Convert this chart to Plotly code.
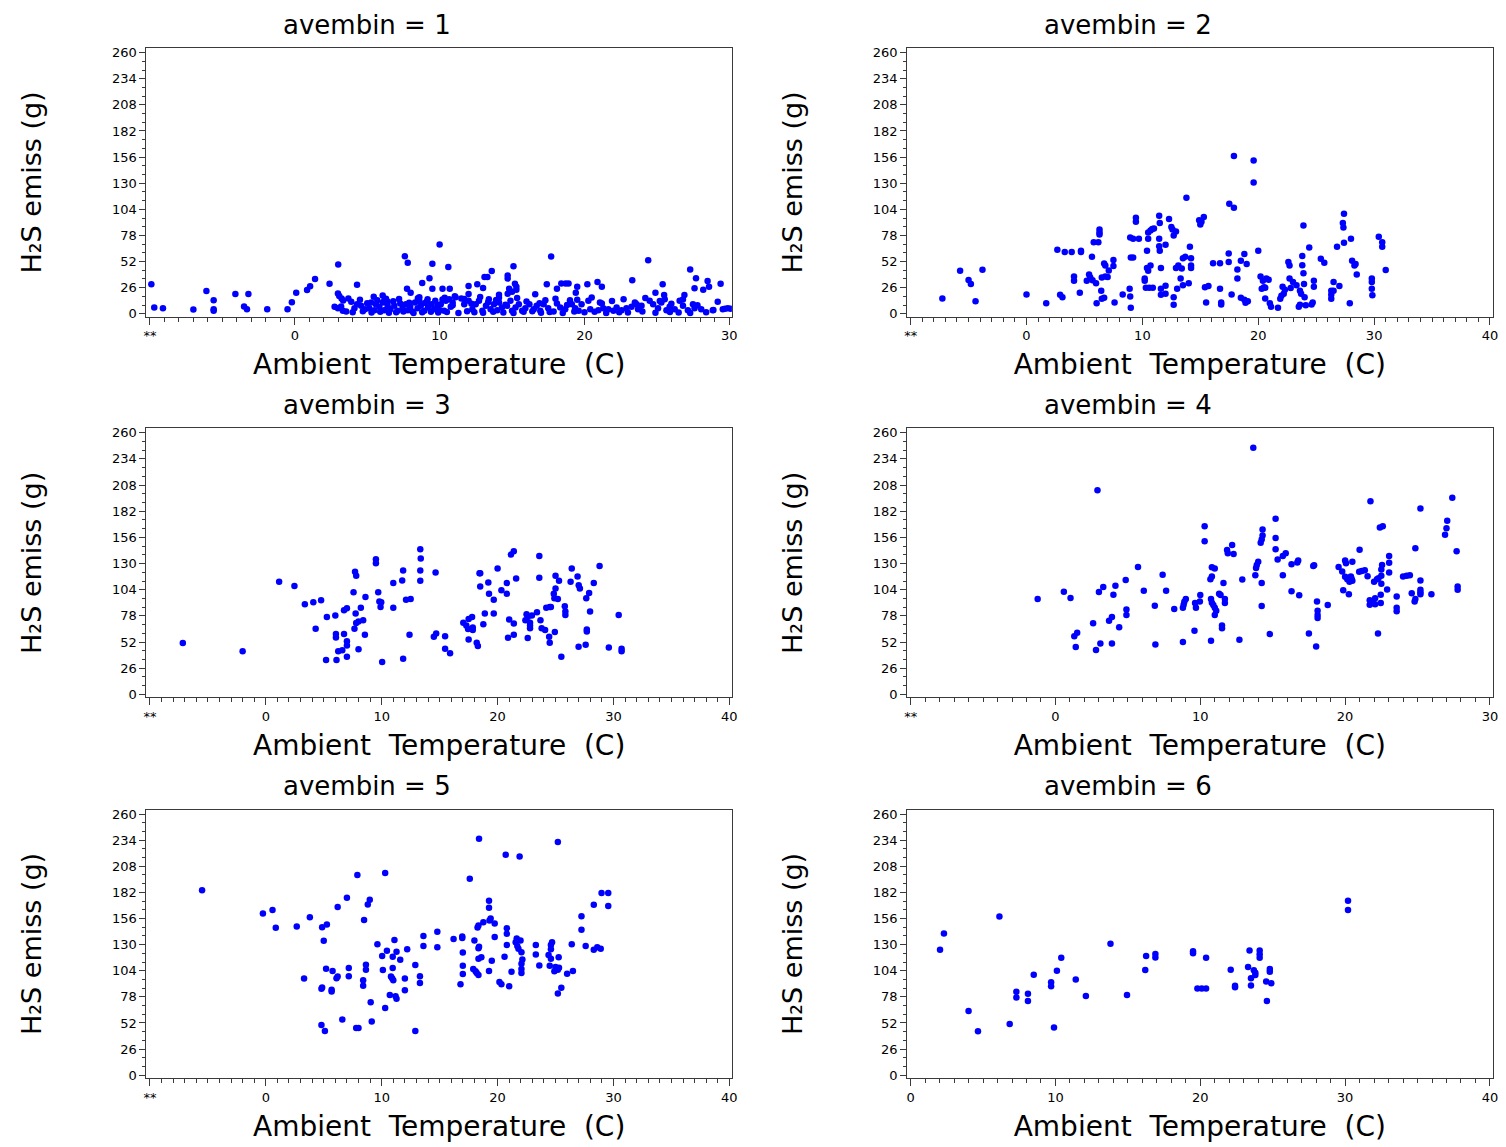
import plotly.graph_objects as go

# ---------------- data ----------------
y_ticks = [0, 26, 52, 78, 104, 130, 156, 182, 208, 234, 260]
y_ticklabels = [str(v) for v in y_ticks]

panel_titles = ["avembin = 1", "avembin = 2", "avembin = 3",
                "avembin = 4", "avembin = 5", "avembin = 6"]
x_title = "Ambient\u00a0\u00a0Temperature\u00a0\u00a0(C)"
y_title = "H\u2082S emiss (g)"

x_tickvals_1 = [-10, 0, 10, 20, 30]
x_ticktext_1 = ["**", "0", "10", "20", "30"]
x_tickvals_2 = [-10, 0, 10, 20, 30, 40]
x_ticktext_2 = ["**", "0", "10", "20", "30", "40"]
x_tickvals_6 = [0, 10, 20, 30, 40]
x_ticktext_6 = ["0", "10", "20", "30", "40"]

# avembin = 1
temp1 = [-9.9, -9.7, -9.1, -7.0, -6.1, -5.6, -5.6, -5.6, -4.1, -3.5, -3.3, -3.2, -1.9, -0.5, -0.2,
         0.1, 0.85, 1.06, 1.4, 2.4, 3.0, 2.98, 3.07, 3.23, 3.34, 3.7, 4.3, 6.07, 6.18, 6.41,
         7.6, 7.8, 7.75, 8.0, 8.6, 8.8, 9.17, 9.3, 9.5, 9.5, 10.0, 10.6, 10.2, 10.7, 12.0,
         12.6, 13.1, 13.3, 13.6, 13.0, 14.1, 14.1, 14.7, 14.7, 15.1, 14.7, 14.8, 15.0, 15.2, 15.3,
         15.3, 16.6, 17.4, 17.7, 18.1, 18.4, 18.7, 18.9, 19.5, 19.4, 20.2, 20.9, 21.2, 23.3, 24.4,
         24.9, 25.4, 25.5, 26.9, 27.3, 27.7, 27.6, 28.5, 28.6, 28.2, 29.4, 28.9, 29.7, 30.1,
         2.75, 2.98, 3.2, 3.32, 3.55, 4.12, 4.3, 4.58, 4.85, 5.27, 5.15, 5.5, 5.6, 5.84, 6.07,
         6.18, 6.41, 6.6, 6.87, 7.1, 7.28, 7.44, 7.67, 7.8, 7.97, 8.13, 8.3, 8.48, 8.7, 8.94,
         9.12, 9.2, 9.44, 9.62, 9.85, 10.03,
         10.2, 10.08, 10.43, 10.66, 10.9, 10.77, 10.31, 11.1, 11.7, 11.7, 12.0, 12.0, 12.26, 12.49, 12.72,
         12.95, 13.2, 13.4, 13.52, 13.75, 13.98, 14.1, 14.3, 14.66, 14.89, 15.0, 15.24, 15.47, 15.7, 15.92,
         16.2, 16.5, 16.7, 16.95, 17.18, 17.5, 17.87, 18.1, 18.33, 18.67, 19.0, 19.13, 19.36, 19.6, 19.8,
         20.27, 20.4, 20.96, 21.07, 21.3, 21.65, 22.0, 22.22, 22.56, 22.9, 23.25, 23.48, 23.7, 23.94, 24.5,
         24.74, 25.08, 25.31, 25.54, 25.66, 25.88, 26.23, 26.57, 26.8, 27.14, 27.49, 27.6, 28.06, 28.86, 29.55,
         29.9,
         4.0, 4.7, 5.3, 5.9, 6.5, 7.0, 7.5, 8.2, 8.8, 9.4, 9.9, 10.5, 11.3, 11.9, 12.4,
         13.0, 13.7, 14.4, 15.1, 15.8, 16.4, 17.0, 17.6, 18.5, 19.3, 20.0, 20.7, 21.5, 22.4, 23.0,
         24.0, 24.9, 25.9, 26.5, 27.3, 28.4,
         3.9, 4.5, 5.0, 5.7, 6.3, 6.8, 7.2, 7.9, 8.5, 9.0, 9.7, 10.35, 10.9, 11.5, 12.2,
         12.8, 13.35, 13.9, 14.55, 15.35, 16.0, 16.9, 17.3, 18.0, 18.8, 19.5, 20.5, 21.2, 21.9, 22.7,
         23.6, 24.2, 25.2, 26.0, 26.8, 27.8, 29.2, 5.45, 8.6, 11.05]
emis1 = [29.4, 6.2, 5.6, 4.3, 22.7, 13.5, 4.6, 3.0, 19.8, 7.2, 4.6, 19.8, 4.6, 4.6, 11.6,
         21.0, 23.7, 27.4, 34.6, 30.0, 49.1, 20.1, 17.8, 15.2, 13.2, 15.2, 29.0, 18.1, 13.2, 11.9,
         57.3, 50.7, 25.0, 21.0, 12.9, 30.6, 14.5, 35.3, 49.7, 25.0, 68.9, 46.5, 25.0, 25.0, 27.7,
         29.4, 36.6, 36.6, 42.5, 25.7, 16.0, 19.0, 35.0, 38.0, 47.2, 20.0, 25.0, 22.0, 30.0, 27.0,
         24.0, 19.5, 29.4, 57.0, 25.0, 30.2, 30.2, 30.2, 27.0, 21.0, 29.4, 31.6, 27.0, 33.3, 53.4,
         21.0, 29.4, 18.8, 18.8, 44.2, 35.3, 25.4, 32.6, 27.0, 24.0, 30.0, 3.7, 5.0, 5.0,
         6.9, 5.6, 7.2, 3.0, 2.3, 5.6, 9.6, 7.9, 4.6, 11.2, 5.6, 3.6, 9.6, 6.9, 11.2,
         3.6, 7.9, 4.6, 7.9, 3.0, 10.3, 5.6, 9.6, 3.6, 6.9, 2.3, 11.2, 5.6, 7.9, 3.0,
         12.2, 6.3, 9.6, 4.6, 7.9, 3.6,
         14.2, 9.6, 12.9, 14.5, 11.2, 6.9, 3.0, 16.5, 14.8, 9.6, 19.8, 12.9, 4.6, 9.6, 12.9,
         3.0, 7.9, 14.5, 4.6, 9.6, 3.6, 11.2, 6.3, 7.9, 12.9, 3.0, 6.3, 9.6, 3.0, 5.6,
         9.6, 4.6, 7.9, 3.0, 9.6, 5.6, 2.3, 10.3, 6.3, 4.6, 13.5, 9.6, 5.6, 3.0, 9.6,
         12.9, 4.6, 3.6, 11.2, 5.6, 4.6, 3.0, 6.3, 3.6, 5.6, 6.9, 11.2, 4.6, 7.9, 12.9,
         9.6, 5.6, 11.2, 14.5, 3.6, 6.9, 4.6, 12.9, 7.9, 3.6, 9.6, 5.6, 4.6, 3.6, 4.6,
         5.6,
         1.5, 2.5, 1.2, 2.0, 1.0, 1.6, 2.2, 0.8, 1.4, 2.0, 1.2, 1.8, 0.9, 2.4, 1.5,
         1.0, 2.1, 1.3, 0.7, 1.9, 2.6, 1.1, 1.7, 0.9, 2.2, 1.4, 2.0, 0.8, 1.6, 1.2,
         2.3, 1.0, 1.8, 1.3, 0.9, 1.5,
         12.0, 14.0, 10.5, 13.5, 15.0, 12.5, 14.8, 11.0, 15.5, 10.8, 13.0, 16.0, 8.5, 15.2, 10.0,
         16.8, 11.5, 13.8, 9.0, 15.8, 12.2, 10.5, 13.4, 15.0, 8.8, 14.0, 16.2, 10.2, 12.6, 14.4,
         9.4, 15.6, 12.8, 10.0, 14.2, 8.4, 12.0, 17.0, 16.4, 17.5]

# avembin = 2
temp2 = [-7.26, -5.73, -5.0, -4.8, -4.4, -3.8, 0.0, 1.7, 2.66, 2.9, 3.1, 3.3, 3.9, 4.1, 4.1,
         4.6, 4.7, 4.7, 5.2, 5.4, 5.5, 5.7, 5.65, 5.8, 6.2, 6.0, 6.05, 6.3, 6.3, 6.3,
         6.45, 6.5, 6.7, 6.5, 6.8, 7.0, 6.7, 6.8, 7.1, 7.5, 7.5, 7.6, 8.3, 8.9, 8.95,
         8.95, 9.2, 9.0, 9.2, 9.0, 9.44, 9.44, 9.7, 10.2, 10.2, 10.4, 10.4, 10.5, 10.5, 10.7,
         10.85, 11.0, 10.5, 10.3, 10.6, 10.9, 10.7, 11.45, 11.5, 11.45, 11.45, 11.5, 11.6, 11.6, 11.6,
         12.0, 12.0, 12.0, 12.3, 12.5, 12.6, 12.9, 12.7, 12.7, 12.7, 12.9, 13.1, 13.0, 13.3, 13.4,
         13.5, 13.7, 13.5, 13.8, 14.0, 14.1, 14.2, 14.2, 14.2, 14.9, 15.1, 15.3, 15.0, 15.4, 15.7,
         15.5, 16.1, 16.7, 16.7, 16.8, 16.8, 17.45, 17.45, 17.5, 17.7, 17.9, 17.9, 18.2, 18.2, 18.5,
         18.5, 18.8, 18.9, 19.1, 18.8, 19.0, 19.6, 19.6, 20.0, 20.2, 20.4, 20.7, 20.9, 20.3, 20.5,
         20.6, 20.6, 21.0, 21.1, 21.7, 21.9, 22.0, 22.2, 22.1, 22.3, 22.6, 22.7, 22.7, 22.8, 23.0,
         23.3, 23.5, 23.6, 23.7, 23.6, 23.8, 23.8, 23.9, 23.9, 23.95, 24.0, 24.1, 24.4, 24.6, 24.7,
         24.8, 24.8, 25.4, 25.7, 26.3, 26.3, 26.3, 26.5, 26.5, 26.8, 27.0, 27.3, 27.35, 27.4, 27.4,
         27.9, 28.0, 28.1, 28.3, 28.4, 28.5, 29.8, 29.8, 29.8, 29.85, 30.4, 30.7, 30.7, 31.0]
emis2 = [15.2, 42.9, 33.7, 29.7, 12.5, 43.9, 19.1, 10.6, 63.7, 19.0, 16.5, 61.4, 61.4, 37.0, 33.0,
         21.0, 62.7, 61.5, 33.0, 39.0, 36.0, 33.5, 56.8, 71.3, 71.3, 30.4, 10.6, 84.0, 81.0, 79.0,
         23.0, 15.0, 16.0, 36.0, 37.0, 36.5, 50.0, 48.0, 43.0, 47.5, 53.5, 11.2, 19.1, 25.0, 17.2,
         76.0, 74.6, 56.0, 56.0, 5.9, 95.7, 91.7, 74.6, 35.0, 33.0, 62.7, 45.5, 42.9, 81.0, 83.0,
         84.5, 85.0, 74.6, 26.0, 26.0, 26.0, 48.0, 97.7, 90.4, 74.6, 67.3, 62.7, 45.5, 25.0, 19.0,
         68.6, 28.0, 20.0, 94.4, 86.5, 84.0, 82.0, 77.9, 16.5, 9.0, 45.5, 48.0, 25.0, 35.0, 45.0,
         55.4, 56.8, 28.4, 115.5, 30.4, 66.7, 55.4, 48.0, 45.5, 93.0, 91.7, 96.4, 89.0, 26.4, 27.7,
         11.2, 50.2, 50.2, 25.0, 11.2, 9.2, 60.0, 51.5, 109.6, 19.1, 157.1, 105.6, 44.2, 35.0, 52.8,
         16.0, 14.0, 11.0, 12.5, 59.4, 49.5, 152.5, 130.7, 62.7, 37.0, 33.0, 35.0, 34.0, 25.0, 26.4,
         26.0, 15.2, 10.6, 7.0, 5.9, 15.0, 18.0, 20.0, 27.0, 24.0, 51.5, 48.0, 35.0, 25.7, 31.7,
         28.4, 7.0, 9.0, 20.0, 23.0, 57.4, 48.2, 87.8, 40.3, 29.7, 16.5, 8.6, 66.0, 9.2, 11.2,
         27.0, 33.0, 54.8, 50.8, 23.0, 19.0, 15.0, 23.0, 31.7, 66.7, 27.7, 90.4, 85.8, 99.7, 70.6,
         10.6, 74.6, 52.8, 48.0, 49.5, 39.0, 35.0, 31.7, 25.0, 18.5, 76.6, 71.3, 66.7, 43.6]

# avembin = 3
temp3 = [-7.16, -2.0, 1.15, 2.47, 3.37, 4.1, 4.77, 4.3, 5.27, 5.2, 6.0, 6.05, 6.05, 6.1, 6.25,
         6.6, 6.75, 6.75, 7.0, 7.0, 7.0, 7.0, 7.57, 7.65, 7.7, 7.8, 7.75, 7.8, 8.0, 8.0,
         8.2, 8.4, 8.55, 8.6, 9.5, 9.5, 9.7, 9.8, 9.96, 9.9, 10.04, 11.0, 11.0, 11.77, 11.85,
         11.85, 12.1, 12.5, 12.4, 13.33, 13.37, 13.33, 13.33, 14.65, 14.5, 14.7, 15.47, 15.47, 15.9, 17.04,
         17.3, 17.45, 17.5, 17.5, 17.8, 17.86, 17.86, 18.2, 18.3, 18.44, 18.5, 18.5, 18.77, 18.9, 19.2,
         19.26, 19.67, 19.67, 20.0, 20.33, 20.8, 20.8, 20.9, 21.0, 21.15, 21.4, 21.4, 21.4, 21.6, 22.5,
         22.6, 22.6, 22.4, 22.8, 22.8, 22.8, 22.96, 23.4, 23.6, 23.6, 23.7, 23.8, 24.1, 24.2, 24.5,
         24.6, 24.45, 24.5, 24.85, 24.9, 24.94, 25.0, 25.3, 25.0, 25.2, 25.5, 25.8, 25.85, 25.85, 26.3,
         26.4, 26.9, 27.0, 27.1, 26.99, 27.6, 27.65, 27.7, 27.7, 27.9, 27.98, 28.3, 28.8, 29.6, 30.45,
         30.7, 30.7]
emis3 = [51.0, 42.8, 111.9, 107.6, 89.5, 91.5, 93.5, 65.2, 77.0, 34.2, 78.3, 56.6, 59.9, 34.2, 42.8,
         43.8, 59.9, 83.6, 85.6, 48.7, 52.7, 37.5, 101.4, 65.2, 121.8, 117.8, 80.3, 71.0, 72.4, 44.8,
         86.2, 73.7, 59.2, 96.8, 134.3, 130.3, 101.4, 92.2, 91.5, 86.9, 32.3, 110.6, 86.2, 113.2, 123.1,
         35.5, 94.1, 94.8, 59.2, 144.2, 135.0, 123.1, 112.9, 121.1, 57.3, 60.6, 57.9, 45.4, 40.8, 71.1,
         68.5, 65.0, 54.6, 75.0, 77.0, 66.5, 63.9, 51.3, 48.0, 120.5, 120.5, 107.3, 69.8, 80.3, 111.3,
         100.1, 94.1, 80.3, 125.1, 103.4, 110.6, 100.0, 56.3, 74.4, 138.9, 142.2, 70.4, 59.2, 115.2, 79.7,
         77.0, 56.0, 73.7, 71.1, 68.5, 65.8, 78.3, 81.6, 137.6, 115.9, 73.7, 65.8, 63.9, 86.2, 86.9,
         86.9, 57.3, 51.3, 100.0, 95.5, 61.9, 117.8, 112.9, 105.3, 94.8, 37.5, 87.6, 82.3, 79.0, 111.9,
         125.1, 117.2, 108.5, 105.3, 47.4, 49.4, 95.5, 64.5, 62.5, 100.7, 82.3, 110.6, 127.7, 46.7, 79.0,
         45.4, 42.8]

# avembin = 4
temp4 = [-1.23, 0.58, 1.04, 1.3, 1.5, 1.4, 2.6, 2.8, 2.9, 3.0, 3.1, 3.3, 3.7, 3.9, 3.9,
         4.0, 4.14, 4.4, 4.85, 4.9, 4.9, 5.7, 6.1, 6.86, 6.9, 7.4, 7.64, 8.2, 8.8, 8.85,
         9.0, 8.9, 8.8, 9.6, 9.64, 9.7, 9.97, 10.0, 10.3, 10.3, 10.7, 10.8, 10.74, 10.9, 10.8,
         10.74, 10.8, 11.0, 11.0, 11.1, 11.0, 11.3, 11.4, 11.5, 11.5, 11.6, 11.7, 11.7, 11.85, 11.9,
         12.2, 12.3, 12.7, 12.9, 13.66, 13.8, 13.85, 13.9, 14.0, 14.17, 14.24, 14.3, 14.3, 14.24, 14.24,
         14.8, 15.2, 15.2, 15.2, 15.34, 15.7, 15.7, 15.9, 16.3, 16.3, 16.7, 16.76, 16.83, 17.5, 17.8,
         17.86, 18.0, 18.06, 18.1, 18.1, 18.1, 18.8, 19.55, 19.8, 19.87, 20.0, 20.06, 20.0, 20.15, 20.3,
         20.25, 20.45, 20.5, 20.4, 20.26, 20.5, 20.97, 21.15, 21.36, 21.0, 21.55, 21.7, 21.7, 21.9, 21.75,
         22.0, 22.2, 22.3, 22.07, 22.07, 22.27, 22.4, 22.6, 22.46, 22.46, 22.5, 22.5, 22.5, 22.55, 22.9,
         23.04, 23.04, 23.04, 23.56, 23.56, 23.56, 24.0, 24.25, 24.47, 24.6, 24.8, 24.85, 24.85, 25.2, 25.2,
         25.2, 25.2, 25.2, 25.96, 26.9, 27.0, 27.05, 27.4, 27.7, 27.77, 27.77]
emis4 = [94.8, 102.0, 95.8, 57.9, 61.2, 47.1, 70.8, 44.1, 202.8, 101.7, 50.7, 106.6, 73.1, 77.0, 50.7,
         99.1, 108.0, 66.8, 113.6, 84.3, 79.0, 126.7, 103.0, 88.2, 49.7, 118.8, 103.0, 84.9, 86.0, 89.0,
         94.8, 92.0, 52.0, 63.2, 90.8, 86.2, 92.2, 98.8, 167.2, 152.1, 114.5, 117.2, 94.8, 88.9, 91.0,
         53.3, 126.4, 125.0, 86.0, 83.0, 79.0, 100.0, 98.8, 68.5, 65.8, 110.6, 94.8, 90.8, 143.5, 140.2,
         148.5, 139.6, 54.3, 114.2, 245.2, 118.5, 125.7, 128.5, 131.7, 150.7, 154.0, 158.0, 163.9, 110.6, 87.9,
         59.9, 174.5, 155.4, 144.2, 134.0, 118.5, 137.6, 140.2, 102.4, 129.4, 131.0, 133.0, 98.4, 60.6, 127.7,
         128.4, 47.7, 92.2, 83.0, 79.0, 76.0, 88.9, 126.7, 122.1, 103.4, 133.0, 130.3, 117.0, 114.5, 112.0,
         116.0, 115.0, 113.0, 117.2, 99.4, 131.7, 121.8, 122.6, 123.4, 143.8, 117.5, 93.5, 89.0, 91.5, 191.9,
         112.0, 114.5, 115.5, 95.5, 89.5, 60.6, 165.9, 167.2, 99.1, 90.8, 110.0, 118.0, 124.0, 128.7, 104.3,
         137.6, 130.7, 121.1, 97.4, 86.2, 82.6, 117.2, 118.0, 118.5, 100.4, 92.2, 94.8, 145.2, 113.2, 104.0,
         101.5, 99.4, 184.7, 99.4, 158.7, 165.0, 172.5, 195.5, 142.2, 107.3, 104.0]

# avembin = 5
temp5 = [-5.5, -0.25, 0.58, 0.86, 2.67, 3.8, 3.3, 4.86, 5.27, 5.0, 4.8, 4.86, 4.8, 5.1, 5.2,
         5.68, 5.68, 5.76, 6.1, 6.2, 6.2, 6.6, 7.0, 7.16, 7.16, 7.9, 7.8, 8.0, 8.4, 8.4,
         8.48, 8.64, 8.64, 8.8, 8.97, 9.05, 9.14, 9.63, 10.04, 10.1, 10.3, 10.3, 10.45, 10.7, 10.8,
         10.9, 11.0, 10.95, 10.95, 11.1, 11.28, 11.28, 11.2, 11.6, 12.0, 12.0, 12.2, 12.9, 12.9, 13.3,
         13.3, 13.6, 13.6, 14.8, 14.8, 16.2, 16.95, 16.95, 17.0, 17.0, 17.0, 16.8, 17.6, 18.0, 17.9,
         18.1, 18.2, 18.35, 18.27, 18.35, 18.35, 18.4, 18.35, 18.6, 18.4, 18.77, 19.26, 19.26, 19.26, 19.3,
         19.4, 19.5, 19.75, 19.75, 20.16, 20.33, 20.6, 20.7, 20.8, 20.8, 20.8, 21.0, 21.2, 21.56, 21.65,
         21.7, 21.8, 21.9, 21.98, 22.06, 22.06, 22.06, 22.06, 22.14, 23.3, 23.3, 23.6, 24.4, 24.6, 24.7,
         24.6, 24.6, 24.5, 24.9, 25.0, 25.2, 25.3, 25.27, 25.2, 25.2, 25.5, 26.0, 26.5, 26.4, 27.24,
         27.24, 27.6, 28.3, 28.3, 28.6, 28.9, 28.97, 29.55, 29.55]
emis5 = [184.2, 160.9, 164.5, 146.8, 148.1, 157.3, 96.2, 147.4, 150.0, 133.9, 86.0, 87.3, 49.9, 44.0, 106.0,
         83.4, 85.0, 103.7, 96.5, 98.2, 167.4, 55.5, 176.6, 106.7, 98.5, 199.3, 46.9, 46.9, 94.5, 89.0,
         154.6, 105.0, 110.0, 170.0, 174.7, 72.6, 53.5, 130.3, 118.8, 104.7, 201.2, 67.0, 123.8, 79.8, 98.2,
         96.5, 94.5, 117.9, 106.7, 134.6, 122.8, 76.2, 78.5, 114.9, 96.2, 84.7, 125.4, 44.0, 109.7, 98.5,
         91.9, 138.5, 128.7, 142.8, 127.4, 135.6, 136.6, 138.2, 122.1, 109.0, 100.8, 90.6, 195.7, 134.0, 105.7,
         103.5, 101.8, 99.8, 147.0, 149.0, 126.4, 128.0, 115.9, 117.5, 235.4, 152.3, 103.7, 166.8, 173.7, 154.0,
         156.0, 113.9, 151.0, 137.6, 92.9, 90.6, 117.9, 219.6, 140.8, 146.4, 129.7, 88.6, 103.1, 132.3, 136.2,
         128.7, 126.0, 217.7, 134.0, 122.5, 111.0, 105.7, 101.8, 115.2, 129.7, 120.2, 109.3, 119.8, 129.7, 132.3,
         125.4, 116.0, 109.0, 103.4, 107.7, 105.0, 107.0, 117.5, 232.1, 81.4, 87.0, 101.1, 103.7, 130.3, 144.8,
         158.2, 128.7, 169.7, 124.8, 127.4, 126.0, 181.5, 181.5, 168.4]

# avembin = 6
temp6 = [2.03, 2.3, 4.0, 4.65, 6.13, 6.84, 7.3, 7.3, 8.1, 8.1, 8.5, 9.7, 9.7, 9.9, 10.1,
         10.4, 11.4, 12.1, 13.8, 14.94, 16.2, 16.26, 16.9, 16.9, 19.5, 19.5, 19.8, 20.1, 20.4, 20.4,
         22.1, 22.4, 22.4, 23.3, 23.4, 23.5, 23.5, 23.7, 23.8, 23.8, 24.1, 24.1, 24.1, 24.55, 24.6,
         24.8, 24.8, 24.9, 30.2, 30.2]
emis6 = [124.8, 141.2, 64.0, 43.7, 157.9, 50.9, 83.0, 77.5, 81.1, 73.9, 100.1, 92.6, 88.6, 47.6, 104.1,
         116.9, 95.2, 78.8, 131.0, 79.8, 104.7, 118.8, 120.8, 117.2, 123.4, 121.5, 86.3, 86.3, 86.3, 116.9,
         105.0, 89.0, 87.7, 107.7, 124.1, 96.5, 89.3, 104.4, 102.0, 99.8, 124.1, 120.5, 116.9, 93.2, 73.9,
         105.7, 103.1, 91.6, 173.7, 164.5]

temps = [temp1, temp2, temp3, temp4, temp5, temp6]
emiss = [emis1, emis2, emis3, emis4, emis5, emis6]

# ---------------- layout geometry ----------------
W, H = 1506, 1147
col_dom = [[144.3 / W, 733.3 / W], [909.6 / W, 1498.5 / W]]
row_px = [(45.5, 316.0), (428.3, 699.3), (812.3, 1082.8)]
row_dom = [[1 - b / H, 1 - t / H] for (t, b) in row_px]

x_setups = [
    (x_tickvals_1, x_ticktext_1, [-10.24, 30.18]),
    (x_tickvals_2, x_ticktext_2, [-10.30, 40.22]),
    (x_tickvals_2, x_ticktext_2, [-10.30, 40.22]),
    (x_tickvals_1, x_ticktext_1, [-10.24, 30.18]),
    (x_tickvals_2, x_ticktext_2, [-10.30, 40.22]),
    (x_tickvals_6, x_ticktext_6, [-0.24, 40.18]),
]

LINE = "#3a3a3a"
TICKFONT = dict(family="DejaVu Sans", size=13, color="black")
TITLEFONT = "DejaVu Sans"

fig = go.Figure()
layout = dict(
    width=W, height=H, margin=dict(l=0, r=0, t=0, b=0),
    paper_bgcolor="white", plot_bgcolor="white", showlegend=False,
    annotations=[],
)

for i in range(6):
    r, c = divmod(i, 2)
    n = "" if i == 0 else str(i + 1)
    fig.add_trace(go.Scatter(
        x=temps[i], y=emiss[i], mode="markers",
        marker=dict(color="#0000ff", size=6.5, line=dict(width=0)),
        xaxis="x" + n, yaxis="y" + n, hoverinfo="x+y",
    ))
    tv, tt, xr = x_setups[i]
    layout["xaxis" + n] = dict(
        domain=col_dom[c], anchor="y" + n, range=xr,
        tickmode="array", tickvals=tv, ticktext=tt,
        ticks="outside", ticklen=7, tickwidth=1, tickcolor=LINE,
        showline=True, linecolor=LINE, linewidth=1, mirror=True,
        showgrid=False, zeroline=False, tickfont=TICKFONT,
        minor=dict(tickmode="linear", tick0=0, dtick=1, ticks="outside",
                   ticklen=4, tickcolor=LINE, showgrid=False),
        title=dict(text=x_title, standoff=12,
                   font=dict(family=TITLEFONT, size=28, color="black")),
    )
    layout["yaxis" + n] = dict(
        domain=row_dom[r], anchor="x" + n, range=[-3.0, 264.4],
        tickmode="array", tickvals=y_ticks, ticktext=y_ticklabels,
        ticks="outside", ticklen=6, tickwidth=1, tickcolor=LINE,
        showline=True, linecolor=LINE, linewidth=1, mirror=True,
        showgrid=False, zeroline=False, tickfont=TICKFONT,
        minor=dict(tickmode="linear", tick0=0, dtick=26 / 3, ticks="outside",
                   ticklen=3, tickcolor=LINE, showgrid=False),
        title=dict(text=y_title, standoff=62,
                   font=dict(family=TITLEFONT, size=27, color="black")),
    )

    top_px, bot_px = row_px[r]
    frame_r = col_dom[c][1] * W
    region_l = 0 if c == 0 else 765
    layout["annotations"].append(dict(
        text=panel_titles[i], xref="paper", yref="paper",
        x=(region_l + frame_r) / 2 / W, y=1 - (top_px - 23.5) / H,
        xanchor="center", yanchor="middle", showarrow=False,
        font=dict(family=TITLEFONT, size=26, color="black"),
    ))

fig.update_layout(**layout)
fig.write_html("out.html")
